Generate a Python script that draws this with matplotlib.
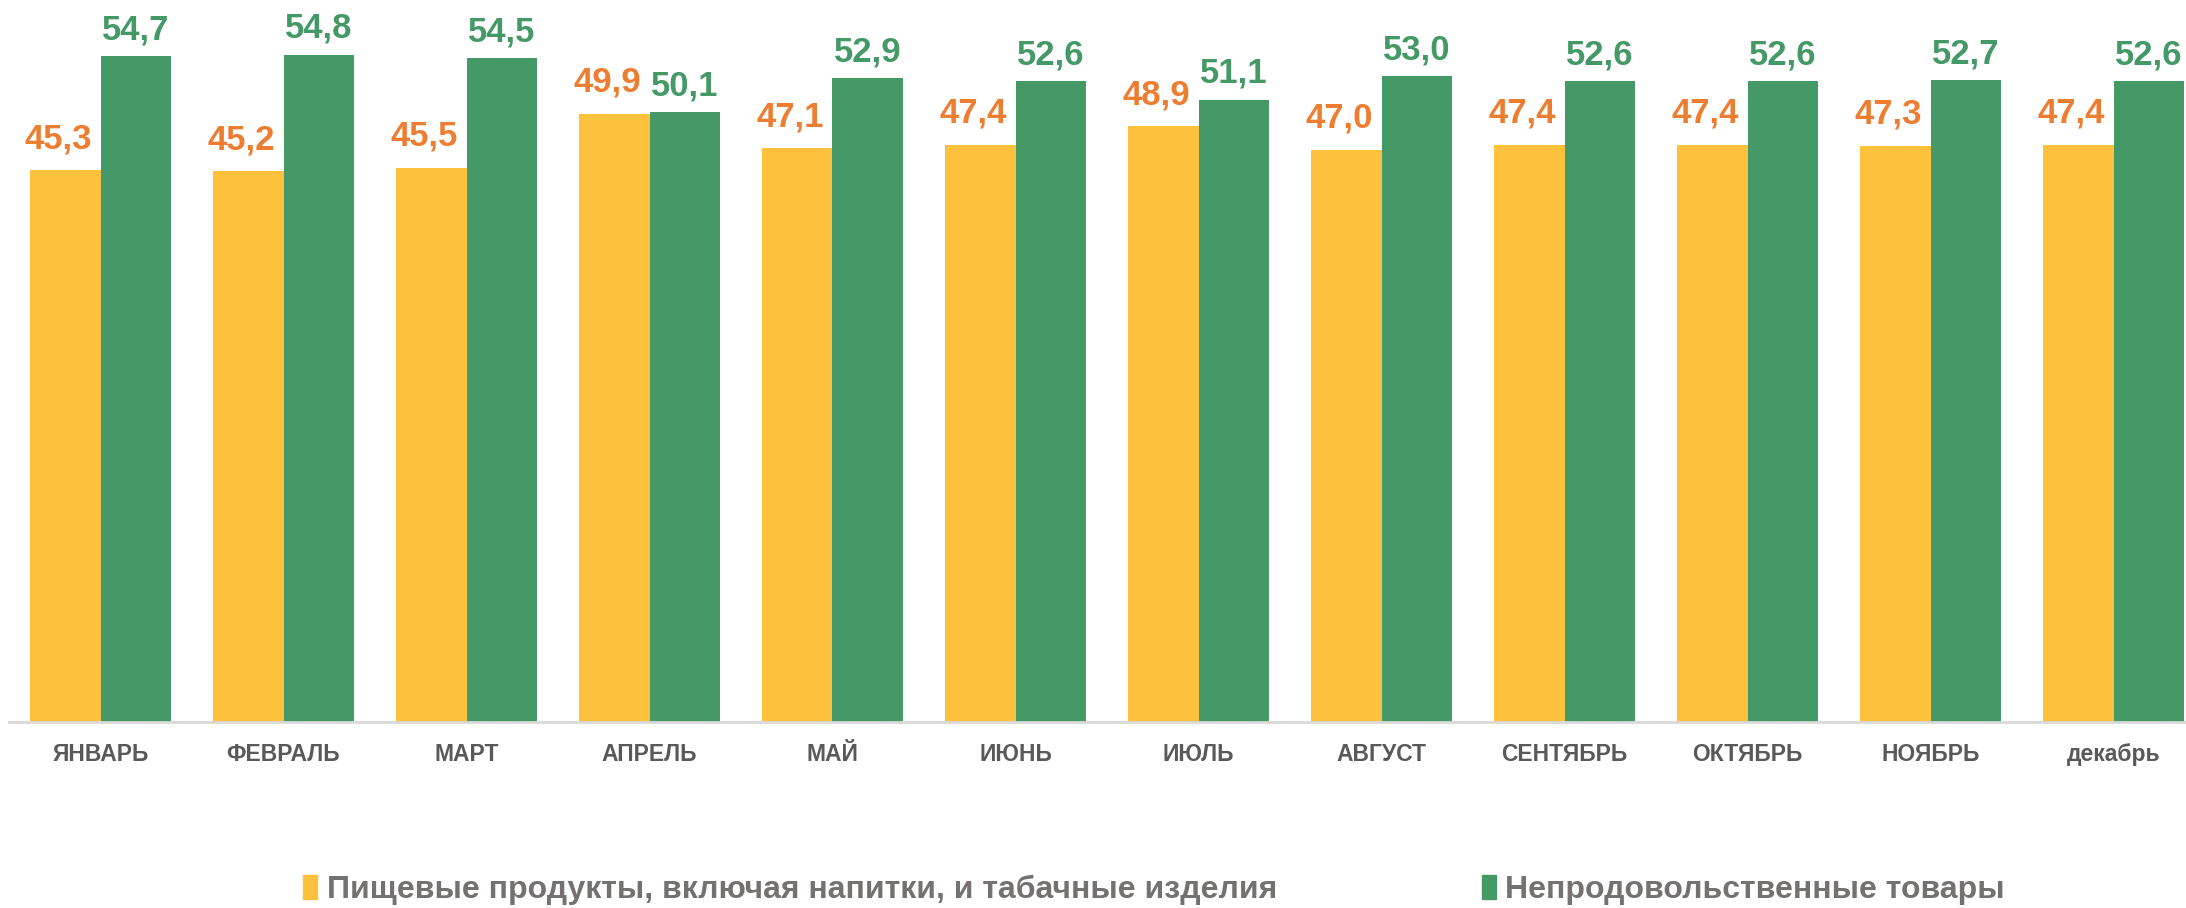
import matplotlib.pyplot as plt
import numpy as np
from matplotlib.patches import Patch

# Data
months = ['ЯНВАРЬ', 'ФЕВРАЛЬ', 'МАРТ', 'АПРЕЛЬ', 'МАЙ', 'ИЮНЬ', 'ИЮЛЬ',
          'АВГУСТ', 'СЕНТЯБРЬ', 'ОКТЯБРЬ', 'НОЯБРЬ', 'декабрь']
food = [45.3, 45.2, 45.5, 49.9, 47.1, 47.4, 48.9, 47.0, 47.4, 47.4, 47.3, 47.4]
nonfood = [54.7, 54.8, 54.5, 50.1, 52.9, 52.6, 51.1, 53.0, 52.6, 52.6, 52.7, 52.6]
food_name = 'Пищевые продукты, включая напитки, и табачные изделия'
nonfood_name = 'Непродовольственные товары'

c_food = '#FEC13E'
c_nonfood = '#449967'
c_food_lbl = '#ED7D31'

plt.rcParams['font.family'] = ['Liberation Sans', 'DejaVu Sans']

fig = plt.figure(figsize=(21.86, 9.08), dpi=100)
# axes runs slightly past the right edge, like the original
ax = fig.add_axes([9 / 2186, 186 / 908, 2196 / 2186, 722 / 908])

x = np.arange(len(months))
w = 0.386
b1 = ax.bar(x - w / 2, food, w, color=c_food)
b2 = ax.bar(x + w / 2, nonfood, w, color=c_nonfood)

for r, v in zip(b1, food):
    ax.annotate(f'{v:.1f}'.replace('.', ','), (r.get_x() + r.get_width() / 2, v),
                xytext=(-5, 16), textcoords='offset points', ha='center', va='baseline',
                fontsize=25, fontweight='bold', color=c_food_lbl)
for r, v in zip(b2, nonfood):
    ax.annotate(f'{v:.1f}'.replace('.', ','), (r.get_x() + r.get_width() / 2, v),
                xytext=(0, 12), textcoords='offset points', ha='center', va='baseline',
                fontsize=25, fontweight='bold', color=c_nonfood)

ax.set_xlim(-0.5, 11.5)
ax.set_ylim(0, 722 / 12.18)
ax.set_xticks(x)
ax.set_xticklabels(months, fontsize=16.5, fontweight='bold', color='#595959')
ax.tick_params(axis='x', length=0, pad=15)
ax.set_yticks([])
for s in ['top', 'right', 'left']:
    ax.spines[s].set_visible(False)
ax.spines['bottom'].set_color('#D9D9D9')
ax.spines['bottom'].set_linewidth(2)

handles = [Patch(color=c_food), Patch(color=c_nonfood)]
fig.legend(handles, [food_name, nonfood_name], loc='center', ncol=2,
           bbox_to_anchor=(1154 / 2186, 18 / 908), frameon=False,
           prop={'family': ['Liberation Sans Narrow', 'Liberation Sans'], 'weight': 'bold', 'size': 23},
           labelcolor='#767171', handlelength=0.45, handleheight=0.75,
           handletextpad=0.3, columnspacing=6.4)

fig.savefig('out.png', dpi=100)
